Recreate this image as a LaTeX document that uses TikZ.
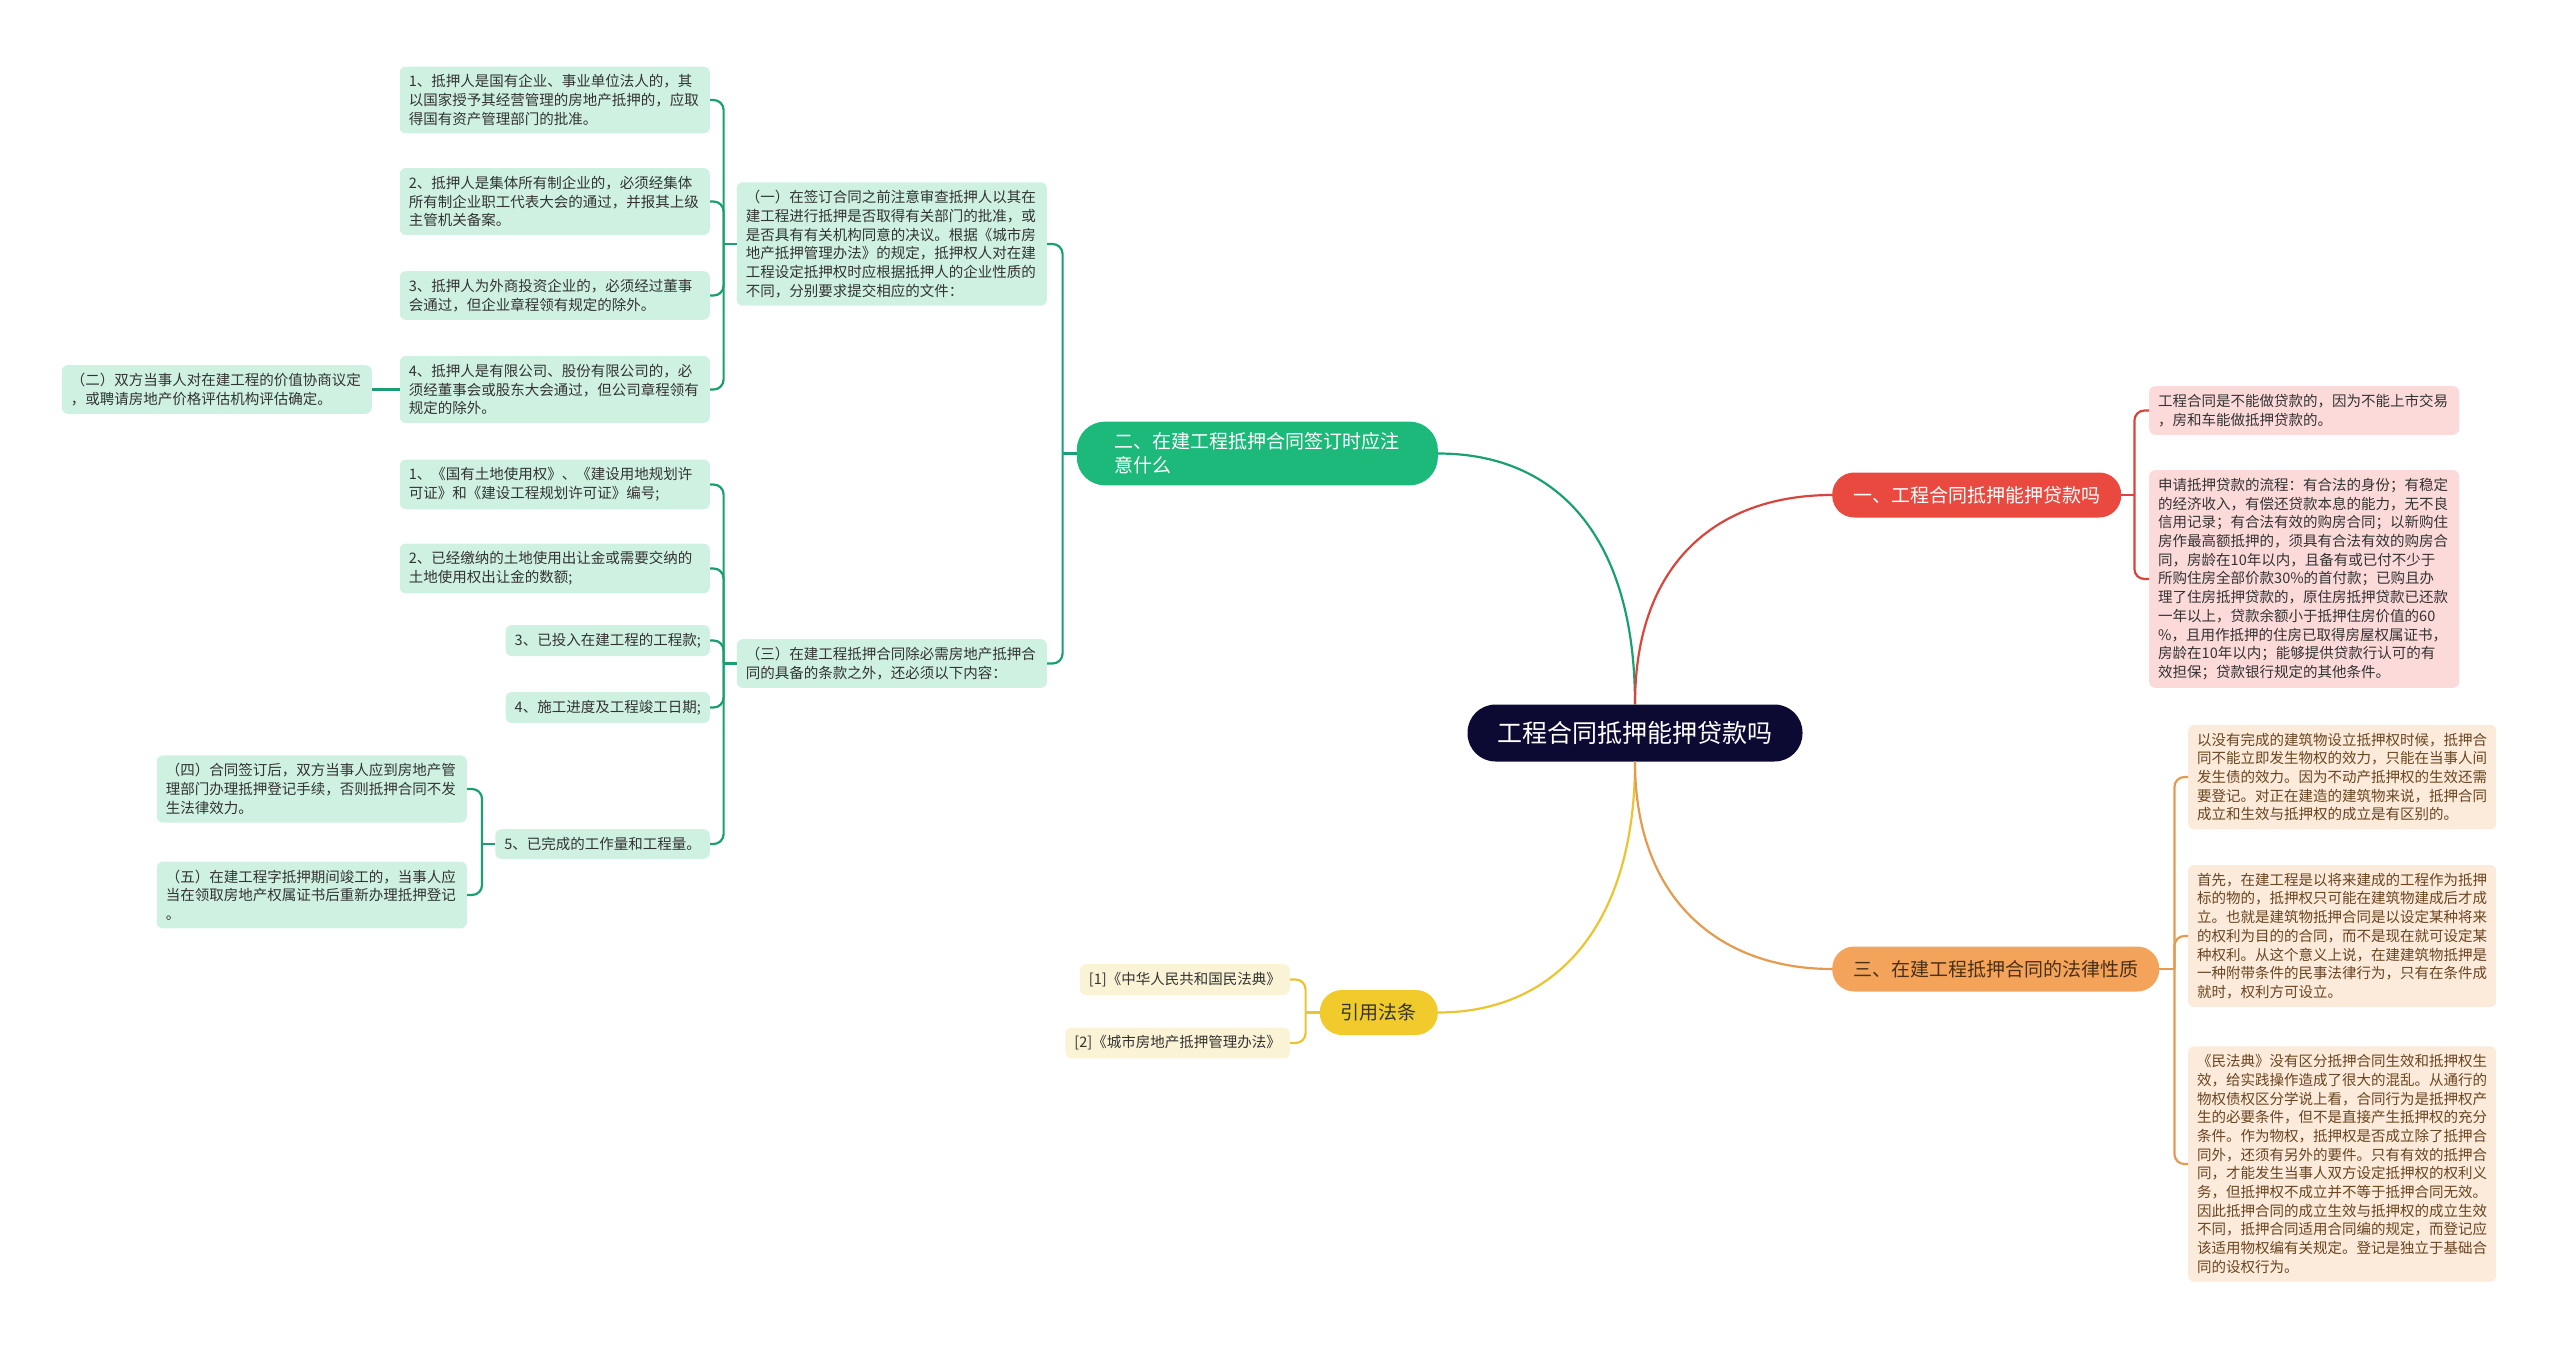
\documentclass[tikz,border=0pt]{standalone}
\usepackage{fontspec}
\setmainfont{Noto Sans CJK SC}
\definecolor{rootfill}{HTML}{0C0A33}
\definecolor{redmain}{HTML}{E9493F}
\definecolor{redleaf}{HTML}{FCDADA}
\definecolor{redline}{HTML}{D8453C}
\definecolor{greenmain}{HTML}{1DB97B}
\definecolor{greenleaf}{HTML}{CFF1E2}
\definecolor{greenline}{HTML}{1AA070}
\definecolor{yellowmain}{HTML}{F1CB2C}
\definecolor{yellowleaf}{HTML}{FBF3D6}
\definecolor{yellowline}{HTML}{EBC431}
\definecolor{orangemain}{HTML}{F3A45A}
\definecolor{orangeleaf}{HTML}{FCEADB}
\definecolor{orangeline}{HTML}{E49A4F}
\definecolor{leaftext}{HTML}{333333}
\definecolor{browntext}{HTML}{6A4520}
\tikzset{
    root/.style = {fill=rootfill, text=white, rounded corners=28pt, minimum height=57pt,
        inner xsep=30pt, font=\fontsize{25}{30}\selectfont},
    topic/.style = {rounded corners=22pt, minimum height=45pt, inner xsep=21pt,
        font=\fontsize{19}{24}\selectfont},
    leaf/.style = {rounded corners=6pt, inner xsep=9pt, inner ysep=8pt, align=left,
        font=\fontsize{14.5}{18.7}\selectfont},
    gleaf/.style = {leaf, fill=greenleaf, text=leaftext},
    rleaf/.style = {leaf, fill=redleaf, text=leaftext, text width=292pt},
    oleaf/.style = {leaf, fill=orangeleaf, text=browntext, text width=290pt},
    yleaf/.style = {leaf, fill=yellowleaf, text=leaftext},
    gline/.style = {draw=greenline, line width=2.2pt},
    rline/.style = {draw=redline, line width=2.2pt},
    oline/.style = {draw=orangeline, line width=2.2pt},
    yline/.style = {draw=yellowline, line width=2.2pt},
    elbow/.style = {rounded corners=10pt, to path={|- (\tikztotarget)}}
}

\begin{document}
\begin{tikzpicture}[x=1pt, y=-1pt]
    \useasboundingbox (0,0) rectangle (2560,1349);

    % centre and main topics
    \node[root] (root) at (1635,733) {工程合同抵押能押贷款吗};
    \node[topic, fill=redmain, text=white, anchor=west] (b1) at (1832,495) {一、工程合同抵押能押贷款吗};
    \node[topic, fill=greenmain, text=white, anchor=east, align=left, text width=285pt,
        inner xsep=38pt, inner ysep=11pt, rounded corners=28pt] (b2) at (1438,453.5)
        {二、在建工程抵押合同签订时应注\\意什么};
    \node[topic, fill=orangemain, text=browntext!70!black, anchor=west] (b3) at (1832,969) {三、在建工程抵押合同的法律性质};
    \node[topic, fill=yellowmain, text=leaftext, anchor=east] (b4) at (1438,1012.5) {引用法条};

    % green subtree
    \node[gleaf, text width=292pt, anchor=east] (c1) at (1047,244)
        {（一）在签订合同之前注意审查抵押人以其在\\建工程进行抵押是否取得有关部门的批准，或\\是否具有有关机构同意的决议。根据《城市房\\地产抵押管理办法》的规定，抵押权人对在建\\工程设定抵押权时应根据抵押人的企业性质的\\不同，分别要求提交相应的文件：};
    \node[gleaf, text width=292pt, anchor=east] (c3) at (1047,663.5)
        {（三）在建工程抵押合同除必需房地产抵押合\\同的具备的条款之外，还必须以下内容：};

    \node[gleaf, text width=292pt, anchor=east] (l1) at (710,100)
        {1、抵押人是国有企业、事业单位法人的，其\\以国家授予其经营管理的房地产抵押的，应取\\得国有资产管理部门的批准。};
    \node[gleaf, text width=292pt, anchor=east] (l2) at (710,201.5)
        {2、抵押人是集体所有制企业的，必须经集体\\所有制企业职工代表大会的通过，并报其上级\\主管机关备案。};
    \node[gleaf, text width=292pt, anchor=east] (l3) at (710,295.5)
        {3、抵押人为外商投资企业的，必须经过董事\\会通过，但企业章程领有规定的除外。};
    \node[gleaf, text width=292pt, anchor=east] (l4) at (710,389.5)
        {4、抵押人是有限公司、股份有限公司的，必\\须经董事会或股东大会通过，但公司章程领有\\规定的除外。};
    \node[gleaf, text width=292pt, anchor=east] (c2) at (372,389.5)
        {（二）双方当事人对在建工程的价值协商议定\\，或聘请房地产价格评估机构评估确定。};

    \node[gleaf, text width=292pt, anchor=east] (m1) at (710,484.5)
        {1、《国有土地使用权》、《建设用地规划许\\可证》和《建设工程规划许可证》编号;};
    \node[gleaf, text width=292pt, anchor=east] (m2) at (710,568.5)
        {2、已经缴纳的土地使用出让金或需要交纳的\\土地使用权出让金的数额;};
    \node[gleaf, anchor=east] (m3) at (710,640.5) {3、已投入在建工程的工程款;};
    \node[gleaf, anchor=east] (m4) at (710,707.5) {4、施工进度及工程竣工日期;};
    \node[gleaf, anchor=east] (m5) at (710,844) {5、已完成的工作量和工程量。};
    \node[gleaf, text width=292pt, anchor=east] (c4) at (467,789)
        {（四）合同签订后，双方当事人应到房地产管\\理部门办理抵押登记手续，否则抵押合同不发\\生法律效力。};
    \node[gleaf, text width=292pt, anchor=east] (c5) at (467,895)
        {（五）在建工程字抵押期间竣工的，当事人应\\当在领取房地产权属证书后重新办理抵押登记\\。};

    % red subtree
    \node[rleaf, anchor=west] (r1) at (2149,410.5)
        {工程合同是不能做贷款的，因为不能上市交易\\，房和车能做抵押贷款的。};
    \node[rleaf, anchor=west] (r2) at (2149,579)
        {申请抵押贷款的流程：有合法的身份；有稳定\\的经济收入，有偿还贷款本息的能力，无不良\\信用记录；有合法有效的购房合同；以新购住\\房作最高额抵押的，须具有合法有效的购房合\\同，房龄在10年以内，且备有或已付不少于\\所购住房全部价款30\%的首付款；已购且办\\理了住房抵押贷款的，原住房抵押贷款已还款\\一年以上，贷款余额小于抵押住房价值的60\\\%，且用作抵押的住房已取得房屋权属证书，\\房龄在10年以内；能够提供贷款行认可的有\\效担保；贷款银行规定的其他条件。};

    % orange subtree
    \node[oleaf, anchor=west] (o1) at (2188,777)
        {以没有完成的建筑物设立抵押权时候，抵押合\\同不能立即发生物权的效力，只能在当事人间\\发生债的效力。因为不动产抵押权的生效还需\\要登记。对正在建造的建筑物来说，抵押合同\\成立和生效与抵押权的成立是有区别的。};
    \node[oleaf, anchor=west] (o2) at (2188,936)
        {首先，在建工程是以将来建成的工程作为抵押\\标的物的，抵押权只可能在建筑物建成后才成\\立。也就是建筑物抵押合同是以设定某种将来\\的权利为目的的合同，而不是现在就可设定某\\种权利。从这个意义上说，在建建筑物抵押是\\一种附带条件的民事法律行为，只有在条件成\\就时，权利方可设立。};
    \node[oleaf, anchor=west] (o3) at (2188,1164)
        {《民法典》没有区分抵押合同生效和抵押权生\\效，给实践操作造成了很大的混乱。从通行的\\物权债权区分学说上看，合同行为是抵押权产\\生的必要条件，但不是直接产生抵押权的充分\\条件。作为物权，抵押权是否成立除了抵押合\\同外，还须有另外的要件。只有有效的抵押合\\同，才能发生当事人双方设定抵押权的权利义\\务，但抵押权不成立并不等于抵押合同无效。\\因此抵押合同的成立生效与抵押权的成立生效\\不同，抵押合同适用合同编的规定，而登记应\\该适用物权编有关规定。登记是独立于基础合\\同的设权行为。};

    % yellow subtree
    \node[yleaf, anchor=east] (y1) at (1290,979.5) {[1]《中华人民共和国民法典》};
    \node[yleaf, anchor=east] (y2) at (1290,1043) {[2]《城市房地产抵押管理办法》};

    % main connectors
    \draw[gline] (root.north) .. controls (1635,540) and (1560,453.5) .. (b2.east);
    \draw[rline] (root.north) .. controls (1635,560) and (1720,495) .. (b1.west);
    \draw[yline] (root.south) .. controls (1635,920) and (1560,1012.5) .. (b4.east);
    \draw[oline] (root.south) .. controls (1635,900) and (1720,969) .. (b3.west);

    % brackets
    \coordinate (j1) at ([xshift=13pt]b1.east);
    \draw[rline] (b1.east) -- (j1);
    \draw[rline] (j1) edge[elbow] (r1.west) edge[elbow] (r2.west);

    \coordinate (j2) at ([xshift=-14pt]b2.west);
    \draw[gline] (b2.west) -- (j2);
    \draw[gline] (j2) edge[elbow] (c1.east) edge[elbow] (c3.east);

    \coordinate (j3) at ([xshift=15pt]b3.east);
    \draw[oline] (b3.east) -- (j3);
    \draw[oline] (j3) edge[elbow] (o1.west) edge[elbow] (o2.west) edge[elbow] (o3.west);

    \coordinate (j4) at ([xshift=-14pt]b4.west);
    \draw[yline] (b4.west) -- (j4);
    \draw[yline] (j4) edge[elbow] (y1.east) edge[elbow] (y2.east);

    \coordinate (k1) at ([xshift=-13pt]c1.west);
    \draw[gline] (c1.west) -- (k1);
    \draw[gline] (k1) edge[elbow] (l1.east) edge[elbow] (l2.east)
        edge[elbow] (l3.east) edge[elbow] (l4.east);
    \draw[gline] (l4.west) -- (c2.east);

    \coordinate (k3) at ([xshift=-13pt]c3.west);
    \draw[gline] (c3.west) -- (k3);
    \draw[gline] (k3) edge[elbow] (m1.east) edge[elbow] (m2.east) edge[elbow] (m3.east)
        edge[elbow] (m4.east) edge[elbow] (m5.east);

    \coordinate (k5) at ([xshift=-13pt]m5.west);
    \draw[gline] (m5.west) -- (k5);
    \draw[gline] (k5) edge[elbow] (c4.east) edge[elbow] (c5.east);
\end{tikzpicture}
\end{document}
